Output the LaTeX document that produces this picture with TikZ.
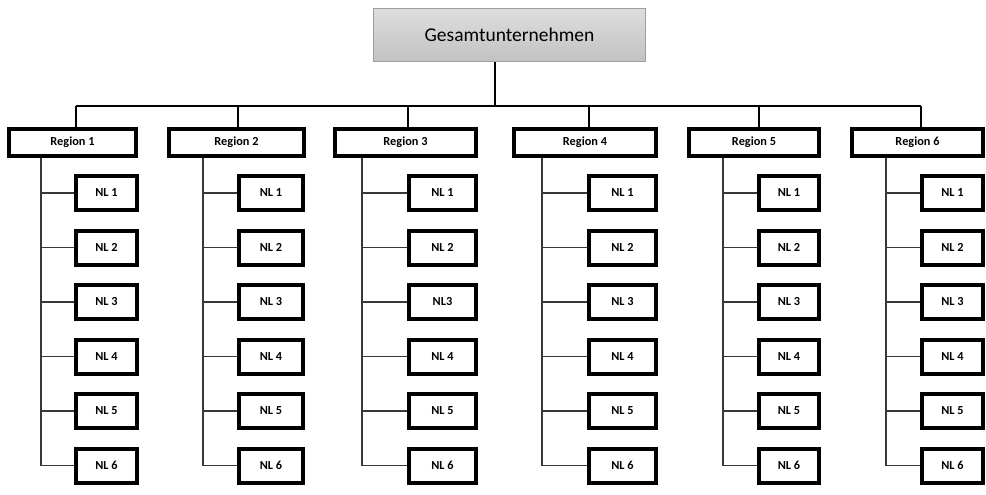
\documentclass[tikz,border=0pt]{standalone}
\usepackage{fontspec}
\setmainfont{Carlito}
\begin{document}
\begin{tikzpicture}[x=1pt,y=-1pt,
  topbox/.style={draw=black!38, line width=1.2pt, top color=black!13, bottom color=black!24, minimum width=272pt, minimum height=53pt, inner sep=0pt, font=\fontsize{19.5}{22}\selectfont},
  regbox/.style={draw, line width=4pt, fill=white, minimum height=27pt, inner sep=0pt, font=\bfseries\fontsize{12.3}{14}\selectfont},
  nlbox/.style={draw, line width=4pt, fill=white, minimum height=34pt, inner sep=0pt, font=\bfseries\fontsize{12.3}{14}\selectfont},
  busline/.style={line width=2pt, black},
  childline/.style={line width=1.2pt, black!78},
]
\useasboundingbox (0,0) rectangle (986,495);
\node[topbox] (top) at (509.5,35) {Gesamtunternehmen};
\coordinate (bus) at (495,106);
\draw[busline] (top.south -| bus) -- (bus);
\foreach \i/\rc/\rw/\tap/\cx/\nc/\nw in {
  1/72.5/127/76/41/106.5/61,
  2/236.5/135/238/203/271/64,
  3/405.5/141/408/362/442.5/67,
  4/585/142/589/542/622.5/67,
  5/754/130/759/723/789/60,
  6/917.5/131/921/886/952.5/61}{
  \node[regbox, minimum width=\rw pt] (r\i) at (\rc,142.5) {Region \i};
  \coordinate (t\i) at (\tap,106);
  \draw[busline] (t\i) -- (t\i |- r\i.north);
  \coordinate (c\i) at (\cx,158);
  \foreach \k in {1,...,6}{
    \node[nlbox, minimum width=\nw pt] (n\i\k) at (\nc,{193+54.5*(\k-1)})
      {\ifnum\numexpr\i*10+\k\relax=33 NL3\else NL \k\fi};
    \draw[childline] (c\i |- n\i\k) -- (n\i\k.west);
  }
  \draw[childline] (c\i |- r\i.south) -- (c\i |- n\i6);
}
\draw[busline] (t1) -- (t6);
\end{tikzpicture}
\end{document}
